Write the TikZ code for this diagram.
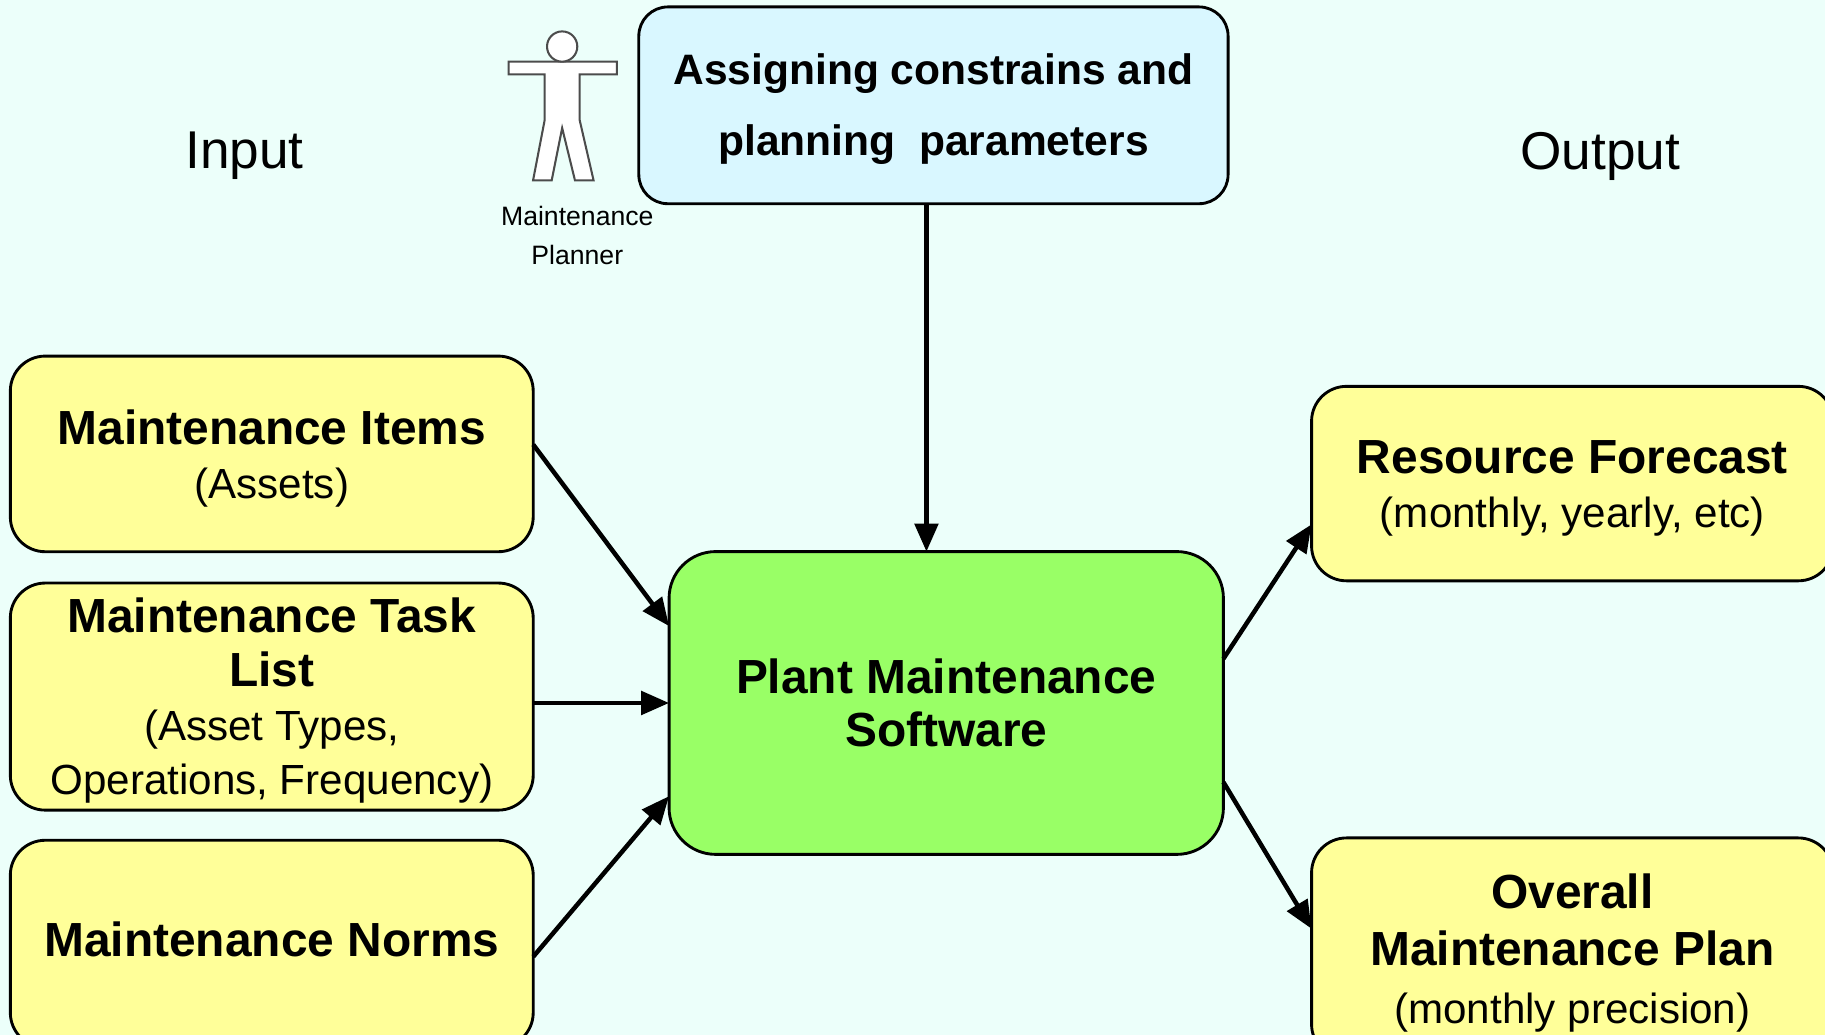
\documentclass[tikz,border=0pt]{standalone}
\usepackage{fontspec}
\setmainfont{Liberation Sans}
\usetikzlibrary{arrows.meta}

\definecolor{bgcyan}{RGB}{236,255,250}
\definecolor{paramblue}{RGB}{217,247,255}
\definecolor{boxyellow}{RGB}{255,255,153}
\definecolor{boxgreen}{RGB}{153,255,102}

\newcommand{\boxtitle}{\fontsize{11.7}{13.3}\selectfont\bfseries}
\newcommand{\boxsub}{\fontsize{10.3}{13.3}\selectfont\mdseries}

\tikzset{
  sidebox/.style={rectangle, draw=black, line width=0.7pt, rounded corners=0.3cm,
    align=center, fill=boxyellow, minimum width=4.49cm,
    font=\fontsize{11.7}{13.2}\selectfont},
  flow/.style={->, line width=1.1pt}
}

\begin{document}
\begin{tikzpicture}[x=0.01cm, y=-0.01cm, inner sep=0, outer sep=0,
    >={Triangle[length=0.24cm, width=0.2cm]}]
  \useasboundingbox (0,0) rectangle (1568,889);
  \fill[bgcyan] (0,0) rectangle (1568,889);
  \clip (0,0) rectangle (1568,889);

  \node[rectangle, draw=black, line width=0.7pt,
    rounded corners=0.25cm,
    align=center,
    minimum width = 5.06cm,
    minimum height = 1.69cm,
    text depth = 0.5pt,
    font = \fontsize{10.4}{17.4}\selectfont\bfseries,
    fill = paramblue] (params) at (802, 90.5)
    {Assigning constrains and\\ planning\ \ parameters};

  \node[rectangle, draw=black, line width=0.7pt,
    rounded corners=0.4cm,
    align=center,
    minimum width = 4.76cm,
    minimum height = 2.6cm,
    font = \fontsize{11.7}{12.9}\selectfont\bfseries,
    fill = boxgreen] (core) at (813, 604)
    {Plant Maintenance\\ Software};

  \node[sidebox, minimum height=1.68cm, text depth=-1.2pt] (items) at (233.5, 390)
    {\boxtitle Maintenance Items\\ \boxsub (Assets)};
  \node[sidebox, minimum height=1.95cm, text depth=-1.2pt] (tasks) at (233.5, 598.5)
    {\boxtitle Maintenance Task\\ \boxtitle List\\ \boxsub (Asset Types,\\ \boxsub Operations, Frequency)};
  \node[sidebox, minimum height=1.78cm, text depth=2.3pt] (norms) at (233.5, 811)
    {\boxtitle Maintenance Norms};

  \node[sidebox, minimum width=4.48cm, minimum height=1.67cm, text depth=-1.2pt] (forecast) at (1351, 415.5)
    {\boxtitle Resource Forecast\\ \boxsub (monthly, yearly, etc)};
  \node[sidebox, minimum width=4.48cm, minimum height=1.9cm, text depth=0pt,
    font=\fontsize{11.7}{14.1}\selectfont] (plan) at (1351, 815)
    {\boxtitle Overall\\ \boxtitle Maintenance Plan\\ \boxsub (monthly precision)};

  \node (inlabel) at (210, 134) {\fontsize{13}{15}\selectfont Input};
  \node (outlabel) at (1375, 134) {\fontsize{13}{15}\selectfont Output};

  % planner figure
  \filldraw[fill=white, draw=gray!60!black, line width=0.5pt]
    (437,53) -- (530,53) -- (530,64) -- (498,64) -- (498,103) -- (510,155) -- (494,155)
    -- (483,110) -- (474,155) -- (458,155) -- (468,103) -- (468,64) -- (437,64) -- cycle;
  \filldraw[fill=white, draw=gray!60!black, line width=0.5pt] (483,40) circle[radius=0.13cm];
  \node[align=center, font=\fontsize{6.5}{9.4}\selectfont] (planner) at (496, 202.5)
    {Maintenance\\ Planner};

  \node (paramsport) at ([xshift=-0.06cm]params.south) {};
  \draw[flow] (paramsport.center) -- (paramsport.center |- core.north);

  \node (itemsport) at ([yshift=0.08cm]items.east) {};
  \node (tasksport) at ([yshift=-0.055cm]tasks.east) {};
  \node (normsport) at ([yshift=-0.11cm]norms.east) {};
  \node (lport1) at ([yshift=0.66cm]core.west) {};
  \node (lport2) at (core.west) {};
  \node (lport3) at ([yshift=-0.8cm]core.west) {};
  \draw[flow] (itemsport.center) -- (lport1.center);
  \draw[flow] (tasksport.center) -- (tasksport.center -| lport2.center);
  \draw[flow] (normsport.center) -- (lport3.center);

  \node (rport1) at ([yshift=0.38cm]core.east) {};
  \node (rport2) at ([yshift=-0.68cm]core.east) {};
  \node (forecastport) at ([yshift=-0.35cm]forecast.west) {};
  \node (planport) at ([yshift=0.17cm]plan.west) {};
  \draw[flow] (rport1.center) -- (forecastport.center);
  \draw[flow] (rport2.center) -- (planport.center);
\end{tikzpicture}
\end{document}
